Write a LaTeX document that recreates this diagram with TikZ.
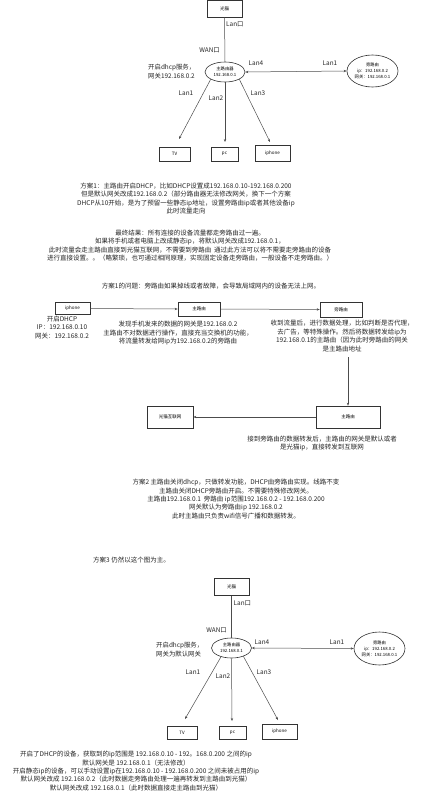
\documentclass[tikz,border=0pt]{standalone}
\usepackage{fontspec}
\setmainfont{Noto Sans CJK SC}
\usetikzlibrary{shapes.geometric,arrows.meta}
\begin{document}
\begin{tikzpicture}[x=1pt,y=-1pt]
\tikzset{
 box/.style={draw=black!80, line width=0.6pt, fill=white, inner sep=0pt, font=\fontsize{4.5}{5.5}\selectfont},
 ell/.style={ellipse, draw=black!80, line width=0.6pt, inner sep=0pt},
 etxt/.style={inner sep=0pt, align=center, font=\fontsize{4.3}{6}\selectfont},
 lbl/.style={inner sep=0pt, font=\fontsize{6.4}{9}\selectfont, text=black!85},
 txt/.style={inner sep=0pt, align=center, font=\fontsize{6.5}{8.4}\selectfont, text=black!85},
 conn/.style={draw=black!70, line width=0.5pt},
 arr/.style={conn, -{Stealth[length=3pt,width=2.4pt]}},
 darr/.style={conn, {Stealth[length=3pt,width=2.4pt]}-{Stealth[length=3pt,width=2.4pt]}},
}
\fill[white] (0,0) rectangle (439,800);
\useasboundingbox (0,0) rectangle (439,800);

% ---------- top diagram ----------
\node[box, minimum width=35pt, minimum height=16.5pt] (gm1) at (224.5,8.75) {光猫};
\node[ell, minimum width=40pt, minimum height=20pt] (mr1) at (225,72) {};
\node[etxt] (mr1t) at (mr1) {主路由器\\192.168.0.1};
\node[ell, minimum width=51pt, minimum height=32pt] (pr1) at (372.5,71) {};
\node[etxt] (pr1t) at (pr1) {旁路由\\ip：192.168.0.2\\网关：192.168.0.1};
\node[box, minimum width=31pt, minimum height=14pt] (tv1) at (174.5,154) {TV};
\node[box, minimum width=27pt, minimum height=14pt] (pc1) at (224.5,154) {pc};
\node[box, minimum width=35pt, minimum height=16pt] (ip1) at (272.5,153) {iphone};
\coordinate (tv1tip) at (179,139);
\coordinate (pc1tip) at (225,142);
\coordinate (ip1tip) at (270,142);
\draw[conn] (gm1.south) -- (mr1.north);
\draw[darr] (mr1.east) -- (pr1.west);
\draw[arr] (mr1.207) -- (tv1tip);
\draw[arr] (mr1.south) -- (pc1tip);
\draw[arr] (mr1.333) -- (ip1tip);
\node[lbl, anchor=west] (l1a) at (226,24) {Lan口};
\node[lbl, anchor=east] (l1b) at (220,50) {WAN口};
\node[lbl, anchor=west, align=left] (l1c) at (148,71.5) {开启dhcp服务，\\网关192.168.0.2};
\node[lbl] (l1d) at (256,63) {Lan4};
\node[lbl] (l1e) at (330,63) {Lan1};
\node[lbl] (l1f) at (186,93) {Lan1};
\node[lbl] (l1g) at (216,98) {Lan2};
\node[lbl] (l1h) at (258,93) {Lan3};

% ---------- text blocks ----------
\node[txt] (b1) at (186,198.5) {方案1：主路由开启DHCP，比如DHCP设置成192.168.0.10-192.168.0.200\\但是默认网关改成192.168.0.2（部分路由器无法修改网关，换下一个方案\\DHCP从10开始，是为了预留一些静态ip地址，设置旁路由ip或者其他设备ip\\此时流量走向};
\node[txt] (b2) at (190,245.5) {最终结果：所有连接的设备流量都走旁路由过一遍。\\如果将手机或者电脑上改成静态ip，将默认网关改成192.168.0.1，\\此时流量会走主路由直接到光猫互联网，不需要到旁路由\ \ 通过此方法可以将不需要走旁路由的设备\\进行直接设置。。（略繁琐，也可通过相同原理，实现固定设备走旁路由，一般设备不走旁路由。）};
\node[txt] (b3) at (211,286.5) {方案1的问题：旁路由如果掉线或者故障，会导致局域网内的设备无法上网。};

% ---------- flow ----------
\node[box, minimum width=35pt, minimum height=12pt] (ib) at (72.5,308.5) {iphone};
\node[box, minimum width=42pt, minimum height=14pt] (zb) at (199,309) {主路由};
\node[box, minimum width=42pt, minimum height=15pt] (pb) at (341,309.5) {旁路由};
\draw[arr] (ib.east) -- (zb.west);
\draw[arr] (zb.east) -- (pb.west);
\node[txt] (ibt) at (62,327.5) {开启DHCP\\IP：192.168.0.10\\网关：192.168.0.2};
\node[txt] (zbt) at (178,333) {发现手机发来的数据的网关是192.168.0.2\\主路由不对数据进行操作，直接充当交换机的功能，\\将流量转发给网ip为192.168.0.2的旁路由};
\node[txt] (pbt) at (342,336) {收到流量后，进行数据处理，比如判断是否代理，\\去广告，等特殊操作。然后将数据转发给ip为\\192.168.0.1的主路由（因为此时旁路由的网关\\是主路由地址};
\node[box, minimum width=64pt, minimum height=22pt] (zr2) at (348,417) {主路由};
\node[box, minimum width=46pt, minimum height=22pt] (gw) at (170,417) {光猫互联网};
\coordinate (vstart) at (348,357);
\draw[arr] (vstart) -- (zr2.north);
\draw[arr] (zr2.west) -- (gw.east);
\node[txt] (zrt) at (322,443.5) {接到旁路由的数据转发后，主路由的网关是默认或者\\是光猫ip，直接转发到互联网};

\node[txt] (b4) at (236,499) {方案2 主路由关闭dhcp，只做转发功能，DHCP由旁路由实现。线路不变\\主路由关闭DHCP旁路由开启。不需要特殊修改网关。\\主路由192.168.0.1\ \ 旁路由 ip范围192.168.0.2 - 192.168.0.200\\网关默认为旁路由ip 192.168.0.2\\此时主路由只负责wifi信号广播和数据转发。};
\node[txt, anchor=west] (b5) at (93,560.5) {方案3 仍然以这个图为主。};

% ---------- bottom diagram ----------
\node[box, minimum width=35pt, minimum height=17pt] (gm2) at (231.5,587) {光猫};
\node[ell, minimum width=40pt, minimum height=20pt] (mr2) at (231.5,648) {};
\node[etxt] (mr2t) at (mr2) {主路由器\\192.168.0.1};
\node[ell, minimum width=51pt, minimum height=33pt] (pr2) at (379.5,648.5) {};
\node[etxt] (pr2t) at (pr2) {旁路由\\ip：192.168.0.2\\网关：192.168.0.1};
\node[box, minimum width=30pt, minimum height=13pt] (tv2) at (182,732.5) {TV};
\node[box, minimum width=27pt, minimum height=13pt] (pc2) at (232.5,732.5) {pc};
\node[box, minimum width=35pt, minimum height=15pt] (ip2) at (279.5,731.5) {iphone};
\coordinate (tv2tip) at (185,719);
\coordinate (pc2tip) at (232,721);
\coordinate (ip2tip) at (278,720);
\draw[conn] (gm2.south) -- (mr2.north);
\draw[darr] (mr2.east) -- (pr2.west);
\draw[arr] (mr2.220) -- (tv2tip);
\draw[arr] (mr2.south) -- (pc2tip);
\draw[arr] (mr2.325) -- (ip2tip);
\node[lbl, anchor=west] (l2a) at (233.5,603) {Lan口};
\node[lbl, anchor=east] (l2b) at (227,630) {WAN口};
\node[lbl, anchor=west, align=left] (l2c) at (156,649.5) {开启dhcp服务，\\网关为默认网关};
\node[lbl] (l2d) at (262,642) {Lan4};
\node[lbl] (l2e) at (337,642) {Lan1};
\node[lbl] (l2f) at (193,672) {Lan1};
\node[lbl] (l2g) at (223,676) {Lan2};
\node[lbl] (l2h) at (264,672) {Lan3};

\node[txt] (b6) at (136,771) {开启了DHCP的设备，获取到的ip范围是 192.168.0.10 - 192。168.0.200 之间的ip\\默认网关是 192.168.0.1（无法修改）\\开启静态ip的设备，可以手动设置ip在192.168.0.10 - 192.168.0.200 之间未被占用的ip\\默认网关改成 192.168.0.2（此时数据走旁路由处理一遍再转发到主路由到光猫）\\默认网关改成 192.168.0.1（此时数据直接走主路由到光猫）};
\end{tikzpicture}
\end{document}
